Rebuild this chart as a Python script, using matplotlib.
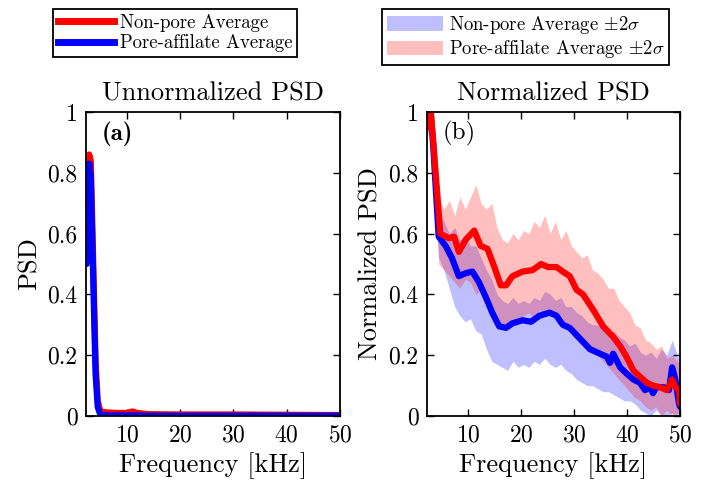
import numpy as np
import matplotlib
matplotlib.use('Agg')
import matplotlib.pyplot as plt
from matplotlib.patches import Patch
from matplotlib.lines import Line2D

plt.rcParams['font.family'] = 'serif'
plt.rcParams['font.serif'] = ['cmr10']
plt.rcParams['mathtext.fontset'] = 'cm'
plt.rcParams['axes.unicode_minus'] = False
plt.rcParams['axes.formatter.use_mathtext'] = True

# ---- (a) unnormalized PSD ----
f_a = [2.4, 2.6, 2.9, 3.2, 3.5, 3.8, 4.1, 4.5, 5.0, 6.0, 8.0, 10.0, 11.0, 12.0, 14.0, 20.0, 30.0, 40.0, 50.0]
nonpore_a = [0.50, 0.80, 0.86, 0.84, 0.62, 0.40, 0.18, 0.05, 0.015, 0.012, 0.01, 0.01, 0.015, 0.01, 0.006, 0.005, 0.005, 0.004, 0.003]
pore_a = [0.50, 0.76, 0.83, 0.79, 0.57, 0.35, 0.14, 0.03, 0.004, 0.002, 0.002, 0.002, 0.002, 0.002, 0.001, 0.001, 0.001, 0.001, 0.001]

# ---- (b) normalized PSD, averages ----
f_red = [2.4, 3.0, 3.5, 4.8, 6.4, 7.4, 8.3, 9.6, 11.2, 12.4, 13.7, 15.0, 16.2, 17.2, 18.4, 20.3, 22.2, 23.8,
         25.1, 26.7, 27.9, 29.2, 30.5, 31.7, 33.6, 35.5, 37.4, 38.7, 39.9, 41.2, 42.4, 43.7, 44.9, 46.2,
         47.5, 48.5, 49.1, 49.8, 50.0]
nonpore_b = [0.95, 1.00, 0.90, 0.60, 0.585, 0.59, 0.54, 0.58, 0.61, 0.56, 0.55, 0.49, 0.43, 0.43, 0.46, 0.475,
             0.48, 0.50, 0.49, 0.49, 0.475, 0.46, 0.415, 0.40, 0.35, 0.295, 0.26, 0.23, 0.195, 0.15, 0.13,
             0.11, 0.10, 0.095, 0.085, 0.12, 0.095, 0.085, 0.04]
f_blue = [2.4, 3.0, 3.5, 4.5, 5.8, 7.0, 8.3, 9.6, 10.85, 12.1, 13.4, 14.6, 15.9, 17.2, 18.4, 20.3, 21.9, 23.5,
          25.4, 26.7, 27.9, 29.2, 31.1, 33.0, 34.9, 36.2, 36.8, 37.4, 38.7, 39.9, 41.2, 42.4, 43.4, 44.4,
          44.9, 45.5, 46.9, 47.9, 48.5, 49.1, 49.8, 50.0]
pore_b = [0.95, 1.00, 0.88, 0.59, 0.56, 0.52, 0.46, 0.47, 0.475, 0.44, 0.39, 0.34, 0.295, 0.29, 0.305, 0.315,
          0.31, 0.33, 0.34, 0.33, 0.30, 0.29, 0.255, 0.22, 0.205, 0.195, 0.175, 0.205, 0.16, 0.14, 0.12,
          0.11, 0.085, 0.095, 0.075, 0.095, 0.095, 0.085, 0.16, 0.12, 0.04, 0.03]

# ---- (b) +-2 sigma bands ----
f_band = [2.4, 3.0, 3.5, 4.5, 5.5, 6.5, 7.5, 8.5, 9.5, 10.5, 11.5, 12.5, 13.5, 14.5, 15.5, 16.5, 17.5, 18.5,
          19.5, 20.5, 21.5, 22.5, 23.5, 24.5, 25.5, 26.5, 27.5, 28.5, 29.5, 30.5, 31.5, 32.5, 33.5, 34.5,
          35.5, 36.5, 37.5, 38.5, 39.5, 40.5, 41.5, 42.5, 43.5, 44.5, 45.5, 46.5, 47.5, 48.5, 49.5, 50.0]
red_hi = [0.98, 1.00, 0.92, 0.72, 0.68, 0.71, 0.66, 0.72, 0.68, 0.72, 0.76, 0.70, 0.68, 0.70, 0.62, 0.58,
          0.57, 0.60, 0.58, 0.61, 0.60, 0.64, 0.62, 0.66, 0.60, 0.64, 0.58, 0.61, 0.56, 0.54, 0.52, 0.53,
          0.48, 0.47, 0.45, 0.42, 0.42, 0.38, 0.36, 0.34, 0.30, 0.29, 0.25, 0.24, 0.22, 0.23, 0.19, 0.20,
          0.18, 0.17]
red_lo = [0.93, 0.98, 0.86, 0.50, 0.48, 0.46, 0.44, 0.42, 0.45, 0.44, 0.40, 0.42, 0.38, 0.36, 0.33, 0.30,
          0.29, 0.31, 0.30, 0.33, 0.34, 0.32, 0.35, 0.33, 0.35, 0.32, 0.33, 0.30, 0.29, 0.27, 0.26, 0.24,
          0.22, 0.20, 0.18, 0.16, 0.14, 0.12, 0.10, 0.08, 0.06, 0.05, 0.03, 0.02, 0.03, 0.00, 0.02, 0.00,
          0.01, 0.00]
blue_hi = [0.97, 1.00, 0.90, 0.67, 0.64, 0.60, 0.62, 0.58, 0.59, 0.56, 0.56, 0.52, 0.48, 0.45, 0.40, 0.38,
           0.37, 0.39, 0.37, 0.38, 0.37, 0.39, 0.38, 0.41, 0.40, 0.38, 0.39, 0.36, 0.36, 0.34, 0.33, 0.31,
           0.30, 0.30, 0.29, 0.27, 0.28, 0.26, 0.25, 0.23, 0.24, 0.21, 0.20, 0.21, 0.19, 0.22, 0.20, 0.25,
           0.20, 0.17]
blue_lo = [0.92, 0.97, 0.84, 0.52, 0.48, 0.42, 0.36, 0.33, 0.31, 0.32, 0.28, 0.27, 0.22, 0.18, 0.17, 0.16,
           0.15, 0.18, 0.16, 0.17, 0.16, 0.18, 0.17, 0.19, 0.17, 0.16, 0.17, 0.15, 0.14, 0.12, 0.11, 0.10,
           0.10, 0.09, 0.08, 0.08, 0.07, 0.06, 0.05, 0.05, 0.04, 0.02, 0.01, 0.00, 0.02, 0.00, 0.00, 0.01,
           0.00, 0.00]

xticks = [10, 20, 30, 40, 50]
yticks = [0, 0.2, 0.4, 0.6, 0.8, 1]
ytick_labels = ['0', '0.2', '0.4', '0.6', '0.8', '1']

fig = plt.figure(figsize=(7.03, 4.88), dpi=100)
ax1 = fig.add_axes([0.1223, 0.1475, 0.3613, 0.623])
ax2 = fig.add_axes([0.6074, 0.1475, 0.360, 0.623])

ax1.plot(f_a, nonpore_a, color='red', lw=4.5, solid_joinstyle='round', solid_capstyle='round')
ax1.plot(f_a, pore_a, color='blue', lw=4.5, solid_joinstyle='round', solid_capstyle='round')
ax1.set_title('Unnormalized PSD', fontsize=19, pad=8)
ax1.set_ylabel('PSD', fontsize=19)
ax1.text(0.063, 0.97, '(a)', transform=ax1.transAxes, fontsize=18, va='top', family='cmb10')

ax2.fill_between(f_band, blue_lo, blue_hi, color='blue', alpha=0.25, lw=0)
ax2.fill_between(f_band, red_lo, red_hi, color='red', alpha=0.25, lw=0)
ax2.plot(f_blue, pore_b, color='blue', lw=4.5, solid_joinstyle='round', solid_capstyle='round')
ax2.plot(f_red, nonpore_b, color='red', lw=4.5, solid_joinstyle='round', solid_capstyle='round')
ax2.set_title('Normalized PSD', fontsize=19, pad=8)
ax2.set_ylabel('Normalized PSD', fontsize=19)
ax2.text(0.06, 0.97, '(b)', transform=ax2.transAxes, fontsize=18, va='top')

for ax in (ax1, ax2):
    ax.set_xlim(2.3, 50)
    ax.set_ylim(0, 1)
    ax.set_xticks(xticks)
    ax.set_yticks(yticks)
    ax.set_yticklabels(ytick_labels)
    ax.tick_params(direction='in', top=True, right=True, labelsize=17, width=1, length=5, pad=6)
    ax.set_xlabel('Frequency [kHz]', fontsize=19)
    for s in ax.spines.values():
        s.set_linewidth(1.3)

h1 = [Line2D([], [], color='red', lw=5), Line2D([], [], color='blue', lw=5)]
leg1 = fig.legend(h1, ['Non-pore Average', 'Pore-affilate Average'], loc='upper left',
                  bbox_to_anchor=(53 / 703, 1 - 9 / 488), fontsize=13.5, fancybox=False,
                  edgecolor='black', framealpha=1, handlelength=3.0, borderaxespad=0,
                  labelspacing=0.15, borderpad=0.25, handletextpad=0.3)
leg1.get_frame().set_linewidth(1.3)

h2 = [Patch(facecolor='blue', alpha=0.25, lw=0), Patch(facecolor='red', alpha=0.25, lw=0)]
leg2 = fig.legend(h2, [r'Non-pore Average $\pm2\sigma$', r'Pore-affilate Average $\pm2\sigma$'],
                  loc='upper left', bbox_to_anchor=(382 / 703, 1 - 9 / 488), fontsize=13.5,
                  fancybox=False, edgecolor='black', framealpha=1, handlelength=3.0,
                  handleheight=0.85, borderaxespad=0, labelspacing=0.15, borderpad=0.25,
                  handletextpad=0.3)
leg2.get_frame().set_linewidth(1.3)

fig.savefig('out.png', dpi=100)
